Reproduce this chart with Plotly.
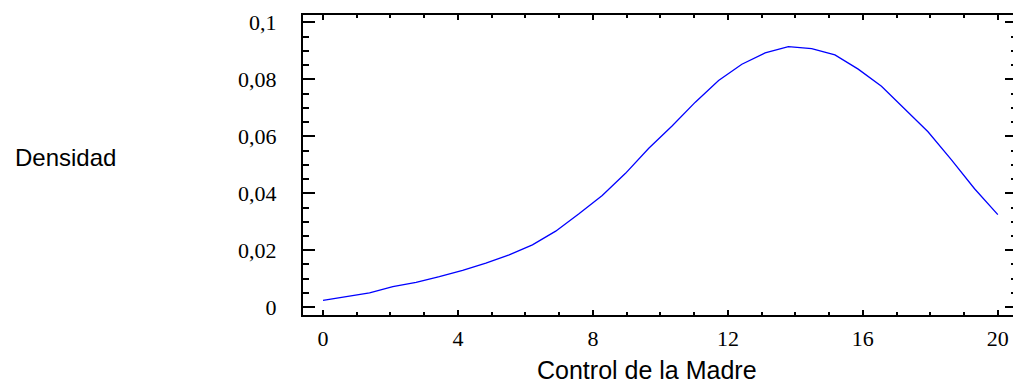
import numpy as np
import plotly.graph_objects as go

# Data (30 evenly spaced points from 0 to 20)
x_vals = list(np.linspace(0, 20, 30))
densidad = [0.0024, 0.0036, 0.0050, 0.0072, 0.0087, 0.0107, 0.0129, 0.0155, 0.0184, 0.0219,
            0.0267, 0.0328, 0.0392, 0.0470, 0.0558, 0.0636, 0.0720, 0.0796, 0.0853, 0.0893,
            0.0915, 0.0908, 0.0886, 0.0836, 0.0776, 0.0696, 0.0616, 0.0518, 0.0416, 0.0325]

x_ticks = [0, 4, 8, 12, 16, 20]
x_ticktext = ["0", "4", "8", "12", "16", "20"]
y_ticks = [0, 0.02, 0.04, 0.06, 0.08, 0.1]
y_ticktext = ["0", "0,02", "0,04", "0,06", "0,08", "0,1"]

x_title = "Control de la Madre"
y_title = "Densidad"

Y_RANGE = [-0.00274, 0.1026]

fig = go.Figure()
fig.add_trace(go.Scatter(x=x_vals, y=densidad, mode="lines",
                         line=dict(color="#0000FF", width=1.3), hoverinfo="skip"))
# invisible helper trace so the right-hand tick axis is drawn
fig.add_trace(go.Scatter(x=[x_vals[0]], y=[densidad[0]], yaxis="y2", mode="markers",
                         marker=dict(opacity=0), hoverinfo="skip", showlegend=False))

W, H = 1013, 385
L, R, T, B = 303, 0, 15, 70

fig.update_layout(
    width=W, height=H,
    margin=dict(l=L, r=R, t=T, b=B),
    paper_bgcolor="white", plot_bgcolor="white",
    showlegend=False,
    font=dict(family="Liberation Serif", size=22, color="black"),
    yaxis2=dict(
        overlaying="y", side="right", range=Y_RANGE, showgrid=False, zeroline=False,
        showline=False, ticks="inside", ticklen=8, tickwidth=2, tickcolor="black",
        tickvals=y_ticks, showticklabels=False,
        minor=dict(dtick=0.005, tick0=0, ticks="inside", ticklen=2, tickwidth=2, tickcolor="black"),
    ),
)

fig.update_xaxes(
    range=[-0.593, 20.45], showgrid=False, zeroline=False,
    showline=True, linecolor="black", linewidth=2, mirror="ticks",
    ticks="inside", ticklen=5, tickwidth=2, tickcolor="black",
    tickvals=x_ticks, ticktext=x_ticktext,
    tickfont=dict(family="Liberation Serif", size=22, color="black"),
    ticklabelstandoff=3,
    minor=dict(dtick=1, tick0=0, ticks="inside", ticklen=3, tickwidth=2, tickcolor="black"),
)
fig.update_layout(yaxis=dict(
    range=Y_RANGE, showgrid=False, zeroline=False,
    showline=True, linecolor="black", linewidth=2, mirror=False,
    ticks="inside", ticklen=12, tickwidth=2, tickcolor="black",
    tickvals=y_ticks, ticktext=y_ticktext,
    tickfont=dict(family="Liberation Serif", size=22, color="black"),
    ticklabelstandoff=20,
    minor=dict(dtick=0.005, tick0=0, ticks="inside", ticklen=6, tickwidth=2, tickcolor="black"),
))

fig.add_annotation(text=x_title, xref="paper", yref="paper", x=0.484, y=-0.182,
                   xanchor="center", yanchor="middle", showarrow=False,
                   font=dict(family="Liberation Sans", size=25, color="black"))
fig.add_annotation(text=y_title, xref="paper", yref="paper", x=-0.26, y=0.524,
                   xanchor="right", yanchor="middle", showarrow=False,
                   font=dict(family="Liberation Sans", size=24, color="black"))

fig.write_html(
    "out.html",
    config={"displayModeBar": False},
    post_script="document.body.style.margin='0';document.body.style.overflow='hidden';",
)
